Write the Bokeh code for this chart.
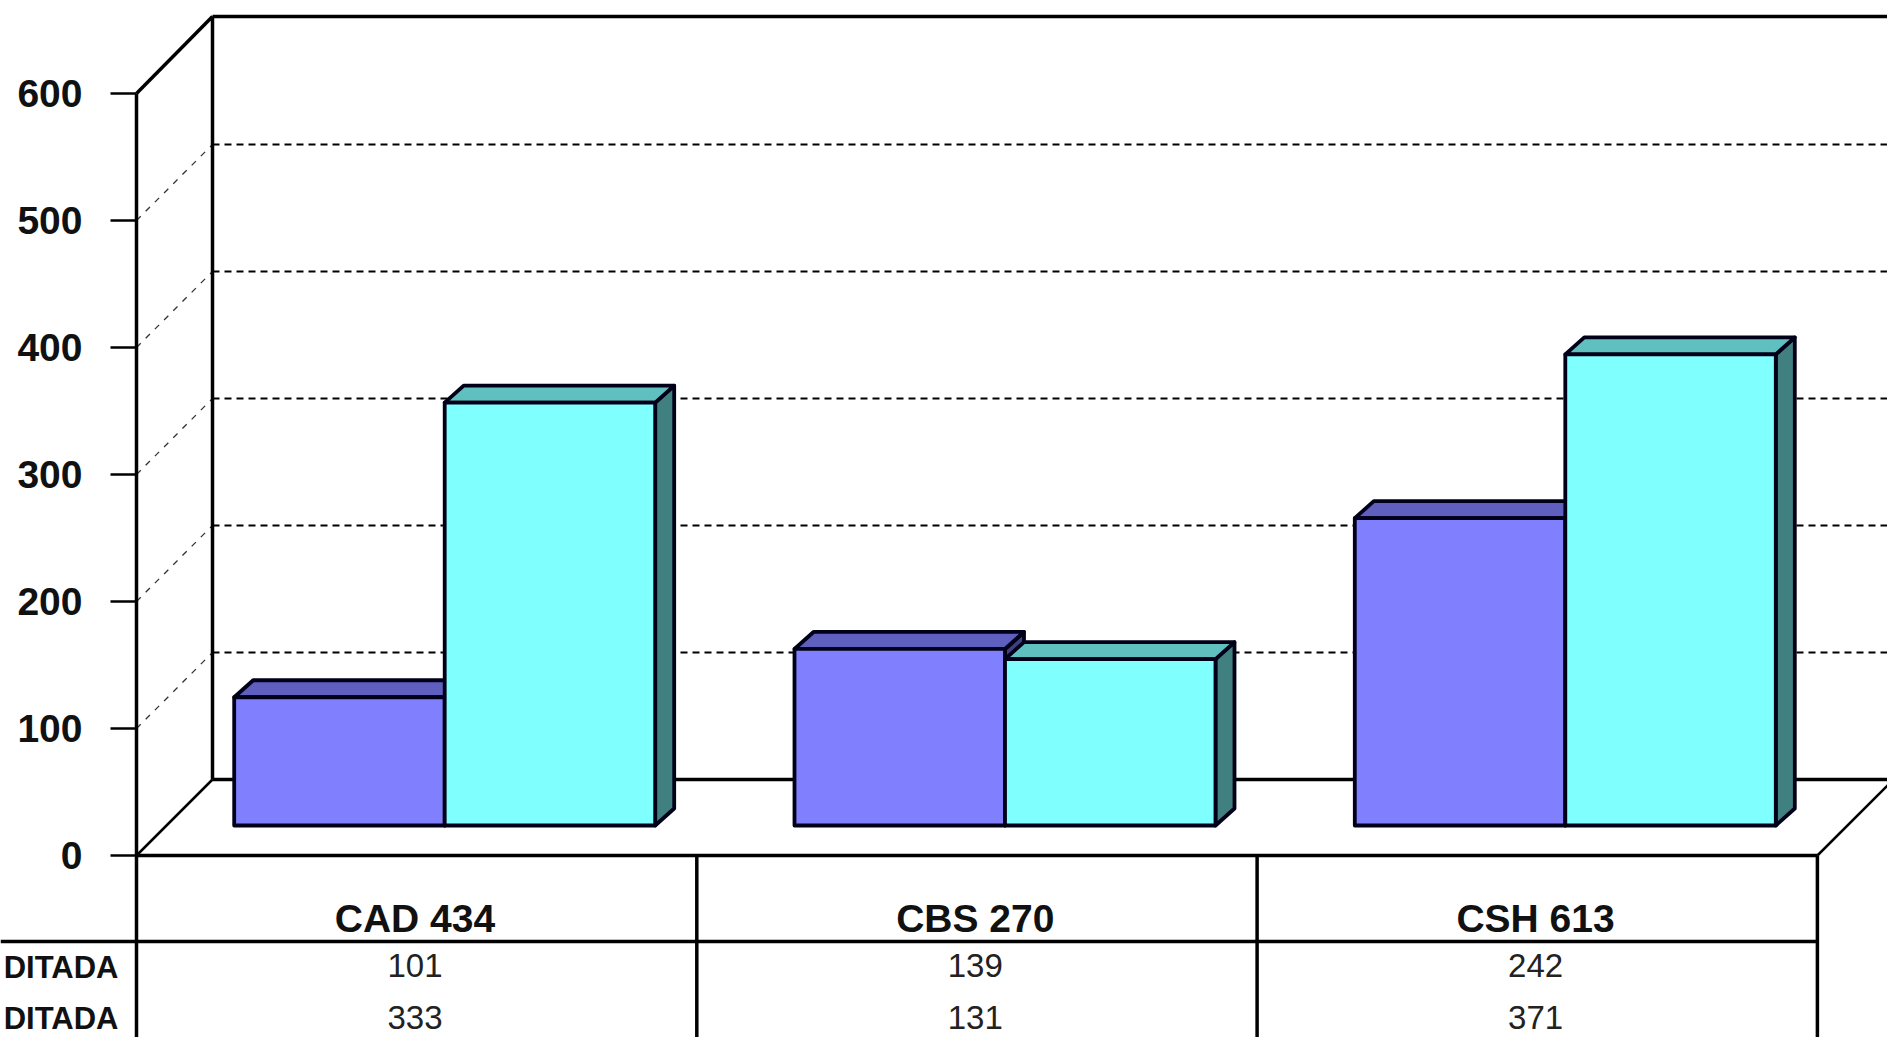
from bokeh.plotting import figure
from bokeh.models import LinearAxis, FixedTicker, Range1d
from bokeh.embed import file_html
from bokeh.resources import INLINE
from bokeh.core.properties import value

categories = ["CAD 434", "CBS 270", "CSH 613"]
series_a = [101, 139, 242]
series_b = [333, 131, 371]
row_labels = ["DITADA", "DITADA"]
ticks = [0, 100, 200, 300, 400, 500, 600]

W, H = 1887, 1037
X0, Y0 = 136, 855          # front floor origin in pixels
CAT_W = 560.3
PX_PER_UNIT = 1.27
DEPTH_X, DEPTH_Y = 76, 76  # wall depth in pixels
BAR_DX, BAR_DY = 19, 17    # bar depth in pixels
BAR_INSET, BAR_W, BAR_FRONT = 97.7, 210.5, 30

FONT = value("Liberation Sans")
def xp(px): return (px - X0) / CAT_W
def yp(py): return (Y0 - py) / PX_PER_UNIT
def dx(px): return px / CAT_W
def dy(px): return px / PX_PER_UNIT

p = figure(width=W, height=H, output_backend="svg", toolbar_location=None,
           x_range=Range1d(xp(0), xp(W)), y_range=Range1d(yp(H), yp(0)),
           min_border=0, x_axis_type=None, y_axis_type=None,
           background_fill_color="white", border_fill_color="white")
p.grid.visible = False
p.outline_line_color = None

n = len(categories)
ymax = ticks[-1]
back_x = dx(DEPTH_X)
back_y = dy(DEPTH_Y)
top_back = yp(16)
right_end = xp(W + 10)

# gridlines on back and side walls
for t in ticks[1:-1]:
    p.line([back_x, right_end], [t + back_y, t + back_y], line_color="black",
           line_width=2, line_dash="7 5")
    p.line([0, back_x], [t, t + back_y], line_color="#333333", line_width=1.3, line_dash="6 7")

# walls and floor
wall = dict(line_color="black", line_width=3.5)
p.line([0, back_x], [ymax, top_back], **wall)
p.line([back_x, right_end], [top_back, top_back], **wall)
p.line([back_x, back_x], [back_y, top_back], **wall)
p.line([0, back_x], [0, back_y], line_color="black", line_width=2.5)
p.line([back_x, right_end], [back_y, back_y], **wall)
p.line([n, n + back_x], [0, back_y], line_color="black", line_width=2.5)

# table
table = dict(line_color="black", line_width=3.5)
p.line([0, n], [0, 0], **table)
p.line([xp(0), n], [yp(941), yp(941)], **table)
for i in range(n + 1):
    p.line([i, i], [0, yp(H + 5)], **table)

# bars
def draw_bar(i, offset, v, front, top, side):
    base = dy(BAR_FRONT)
    x1 = i + dx(BAR_INSET) + offset * dx(BAR_W)
    x2 = x1 + dx(BAR_W)
    ddx, ddy = dx(BAR_DX), dy(BAR_DY)
    edge = dict(line_color="#000018", line_width=3.8, line_join="round")
    p.patch([x2, x2 + ddx, x2 + ddx, x2], [base, base + ddy, base + v + ddy, base + v],
            fill_color=side, **edge)
    p.patch([x1, x1 + ddx, x2 + ddx, x2], [base + v, base + v + ddy, base + v + ddy, base + v],
            fill_color=top, **edge)
    p.quad(left=[x1], right=[x2], bottom=[base], top=[base + v], fill_color=front, **edge)

for i in range(n):
    draw_bar(i, 0, series_a[i], "#8080FF", "#5F5FBF", "#404080")
    draw_bar(i, 1, series_b[i], "#80FFFF", "#60BFBF", "#408080")

# value axis
axis = LinearAxis(ticker=FixedTicker(ticks=ticks), fixed_location=0, bounds=(0, ymax))
axis.axis_line_color = "black"
axis.axis_line_width = 3.5
axis.major_tick_line_color = "black"
axis.major_tick_line_width = 2.5
axis.major_tick_out = 26
axis.major_tick_in = 0
axis.minor_tick_line_color = None
axis.major_label_standoff = 28
axis.major_label_text_font = "Liberation Sans"
axis.major_label_text_font_style = "bold"
axis.major_label_text_font_size = "39px"
axis.major_label_text_color = "#111111"
p.add_layout(axis, "left")

# table texts
centres = [i + 0.497 for i in range(n)]
p.text(centres, [yp(918)] * n, text=categories, text_font=FONT, text_font_style="bold",
       text_font_size="39px", text_align="center", text_baseline="middle", text_color="#111111")
for vals, py in ((series_a, 965), (series_b, 1017)):
    p.text(centres, [yp(py)] * n, text=[str(v) for v in vals], text_font=FONT,
           text_font_size="33px", text_align="center", text_baseline="middle", text_color="#222222")
for lab, py in zip(row_labels, (967, 1018)):
    p.text([xp(118)], [yp(py)], text=[lab], text_font=FONT, text_font_style="bold",
           text_font_size="31px", text_align="right", text_baseline="middle", text_color="#111111")

open("out.html", "w").write(file_html(p, INLINE))
